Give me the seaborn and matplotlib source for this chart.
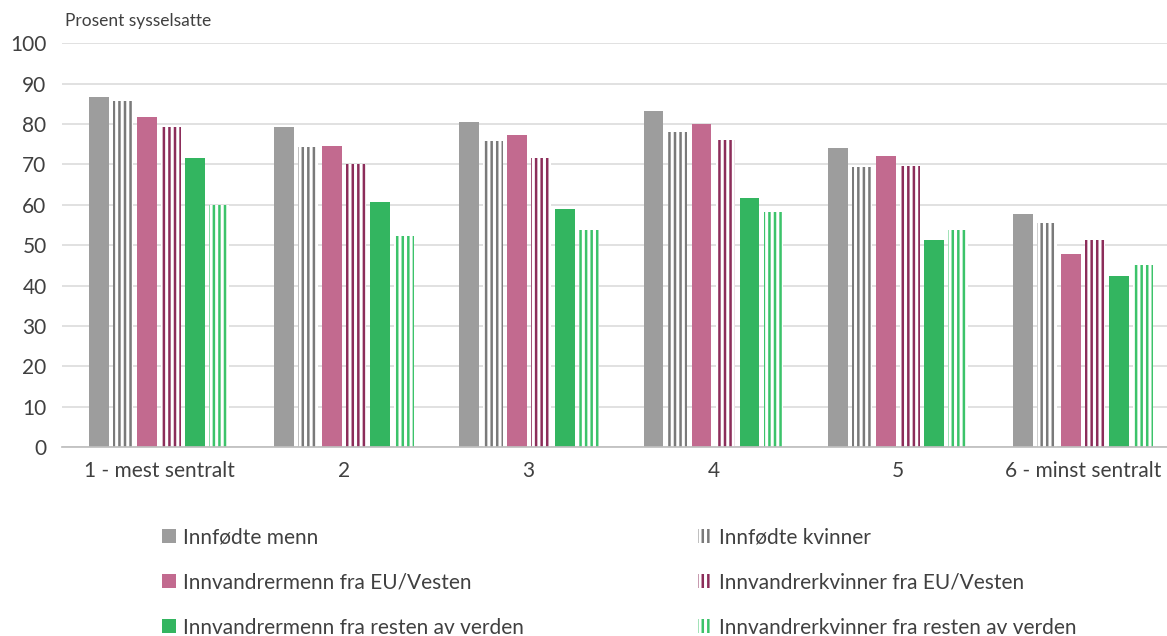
import seaborn as sns
import matplotlib.pyplot as plt
import pandas as pd

sns.set_theme(style="white")
plt.rcParams['font.family'] = ['Lato', 'DejaVu Sans']
plt.rcParams['hatch.linewidth'] = 1.8

# Kategorier (sentralitet) og serier
regions = ['1 - mest sentralt', '2', '3', '4', '5', '6 - minst sentralt']
groups = ['Innfødte menn', 'Innfødte kvinner',
          'Innvandrermenn fra EU/Vesten', 'Innvandrerkvinner fra EU/Vesten',
          'Innvandrermenn fra resten av verden', 'Innvandrerkvinner fra resten av verden']
native_men = [86.6, 79.2, 80.5, 83.3, 74.0, 57.8]
native_women = [85.8, 74.2, 75.8, 78.0, 69.3, 55.5]
eu_men = [81.7, 74.6, 77.2, 80.1, 72.0, 47.9]
eu_women = [79.3, 70.2, 71.6, 76.0, 69.5, 51.3]
rest_men = [71.6, 60.6, 59.0, 61.6, 51.4, 42.3]
rest_women = [60.0, 52.3, 53.7, 58.3, 53.8, 45.2]
colors = ['#9d9d9d', '#7a7a7a', '#c26a8f', '#8c2d5a', '#33b560', '#3cc36a']
hatched = [False, True, False, True, False, True]

series = [native_men, native_women, eu_men, eu_women, rest_men, rest_women]
rows = []
for g, vals in zip(groups, series):
    for r, v in zip(regions, vals):
        rows.append({'region': r, 'gruppe': g, 'prosent': v})
df = pd.DataFrame(rows)

fig, ax = plt.subplots(figsize=(11.67, 6.36), dpi=100)
fig.subplots_adjust(left=0.053, right=1.0, top=0.932, bottom=0.297)

sns.barplot(data=df, x='region', y='prosent', hue='gruppe', order=regions,
            hue_order=groups, palette=colors, width=0.78, gap=0.18,
            ax=ax, legend=False)

# Stripete søyler for kvinner
for cont, col, h in zip(ax.containers, colors, hatched):
    for bar in cont:
        if h:
            bar.set_facecolor('white')
            bar.set_edgecolor(col)
            bar.set_hatch('|||')
            bar.set_linewidth(0)
        else:
            bar.set_facecolor(col)
            bar.set_linewidth(0)

ax.set_ylim(0, 100)
ax.set_xlim(-0.527, 5.455)
ax.set_yticks(range(0, 101, 10))
ax.yaxis.grid(True, color='#d9d9d9', linewidth=1.1)
ax.set_axisbelow(True)
for s in ['top', 'right', 'left']:
    ax.spines[s].set_visible(False)
ax.spines['bottom'].set_color('#bfbfbf')
ax.tick_params(axis='both', length=0, labelsize=15, colors='#404040')
ax.tick_params(axis='x', pad=10)
ax.tick_params(axis='y', pad=11)
ax.set_xlabel('')
ax.set_ylabel('')
ax.text(0.003, 1.035, 'Prosent sysselsatte', transform=ax.transAxes,
        fontsize=12.5, color='#404040', va='bottom', ha='left')

handles = list(ax.containers)
for idx, x0 in [([0, 2, 4], 0.123), ([1, 3, 5], 0.582)]:
    fig.legend([handles[i] for i in idx], [groups[i] for i in idx],
               loc='upper left', bbox_to_anchor=(x0, 0.2), frameon=False,
               fontsize=15, labelcolor='#404040', handlelength=0.65,
               handleheight=0.65, handletextpad=0.35, labelspacing=1.2)

plt.savefig('out.png', dpi=100)
